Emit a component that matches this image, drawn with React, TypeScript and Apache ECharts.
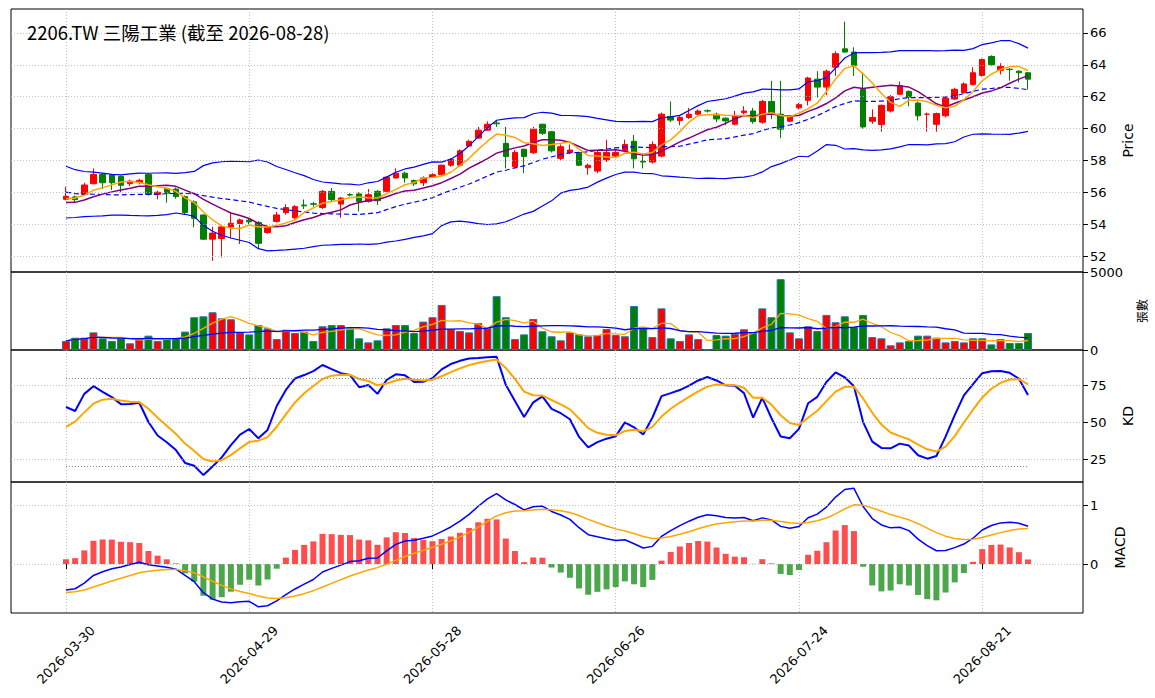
import React, { useEffect, useRef } from 'react';
import * as echarts from 'echarts';

// 2206.TW 三陽工業 日線
const startDate = '2026-03-30';
const holidays = ['2026-04-03', '2026-04-06', '2026-05-01', '2026-06-19'];
const tickDates = ['2026-03-30', '2026-04-29', '2026-05-28', '2026-06-26', '2026-07-24', '2026-08-21'];

const opens = [
  55.56, 55.71, 55.87, 56.54, 57.12, 57.08, 57.0, 56.54, 56.6, 57.12,
  55.87, 56.23, 56.2, 55.73, 55.4, 54.58, 53.06, 53.1, 53.83, 54.04,
  54.25, 54.1, 53.48, 54.17, 54.73, 54.4, 55.2, 55.28, 55.05, 56.06,
  55.26, 55.85, 55.9, 55.43, 56.06, 56.06, 56.9, 57.2, 56.74, 56.6,
  56.95, 57.1, 57.7, 57.7, 58.9, 59.4, 59.9, 60.35, 59.07, 57.6,
  58.7, 58.48, 60.27, 59.8, 58.13, 58.5, 58.5, 57.54, 57.33, 58.04,
  58.27, 58.6, 59.2, 57.95, 57.9, 58.27, 60.76, 60.5, 60.7, 60.9,
  61.12, 60.9, 60.65, 60.27, 61.0, 61.1, 60.4, 61.7, 60.9, 60.46,
  61.3, 61.77, 63.1, 62.6, 63.85, 65.0, 64.8, 62.46, 60.46, 60.25,
  61.1, 62.15, 62.33, 61.6, 60.9, 60.27, 60.8, 61.85, 62.25, 62.77,
  63.33, 64.52, 63.65, 63.72, 63.6, 63.5,
];
const closes = [
  55.75, 55.54, 56.46, 57.12, 56.6, 56.6, 56.44, 56.7, 56.75, 55.87,
  56.0, 55.94, 55.73, 54.73, 54.37, 53.06, 53.44, 53.83, 54.06, 54.27,
  54.15, 52.8, 53.83, 54.58, 55.04, 55.1, 55.15, 55.25, 56.06, 55.54,
  55.64, 55.83, 55.43, 55.85, 55.47, 56.95, 57.2, 56.9, 56.53, 56.9,
  57.1, 57.7, 58.06, 58.6, 59.2, 59.9, 60.27, 60.3, 58.25, 58.5,
  58.25, 59.96, 59.7, 58.6, 58.86, 58.65, 57.7, 57.7, 58.5, 58.5,
  58.5, 59.0, 58.1, 57.9, 59.0, 60.9, 60.53, 60.7, 60.9, 61.1,
  61.1, 60.6, 60.48, 60.8, 61.1, 60.44, 61.7, 60.9, 59.96, 60.73,
  61.5, 63.17, 62.6, 63.6, 64.7, 64.8, 63.96, 60.1, 60.7, 61.46,
  62.0, 62.7, 61.98, 60.8, 60.9, 60.94, 61.9, 62.46, 62.8, 63.5,
  64.33, 64.0, 63.9, 63.7, 63.5, 63.1,
];
const highs = [
  56.35, 55.8, 56.6, 57.5, 57.2, 57.15, 57.05, 56.8, 56.85, 57.2,
  56.1, 56.3, 56.3, 55.8, 55.5, 54.6, 53.84, 53.9, 54.7, 54.35,
  54.4, 54.2, 53.9, 54.77, 55.25, 55.2, 55.55, 55.4, 56.15, 56.27,
  55.7, 55.95, 56.0, 56.2, 56.15, 57.0, 57.5, 57.3, 56.8, 57.0,
  57.2, 57.75, 58.15, 58.7, 59.3, 60.1, 60.45, 60.5, 60.1, 58.65,
  58.75, 60.1, 60.3, 59.85, 59.0, 59.0, 58.55, 57.8, 58.6, 59.3,
  58.6, 59.3, 59.6, 58.4, 59.2, 61.0, 61.7, 60.8, 61.3, 61.2,
  61.2, 61.0, 60.7, 61.1, 61.4, 61.3, 61.8, 63.0, 63.0, 60.8,
  61.6, 63.25, 63.6, 63.7, 64.85, 66.7, 65.1, 63.5, 61.2, 61.5,
  62.1, 62.95, 62.4, 61.7, 61.0, 61.0, 62.0, 62.55, 62.9, 63.85,
  64.4, 64.6, 64.1, 63.8, 63.65, 63.55,
];
const lows = [
  55.5, 55.35, 55.8, 56.5, 56.2, 56.15, 56.0, 56.4, 56.5, 55.8,
  55.56, 55.35, 55.6, 54.6, 53.8, 53.0, 51.7, 51.9, 53.1, 52.75,
  54.0, 52.5, 53.4, 54.1, 54.6, 54.3, 54.95, 55.1, 54.95, 55.45,
  54.4, 55.75, 54.8, 55.35, 55.2, 56.0, 56.85, 56.6, 56.4, 56.4,
  56.9, 57.0, 57.6, 57.6, 58.85, 59.35, 59.85, 60.1, 57.5, 57.55,
  57.2, 58.4, 59.6, 58.5, 58.0, 58.4, 57.65, 57.1, 57.2, 57.9,
  58.2, 58.5, 57.5, 57.5, 57.8, 58.2, 60.4, 60.2, 60.6, 60.8,
  61.0, 60.4, 60.2, 60.2, 60.9, 60.3, 60.3, 60.6, 59.4, 60.4,
  61.2, 61.45, 61.95, 62.1, 63.3, 64.75, 63.3, 60.0, 60.3, 59.8,
  61.0, 62.1, 61.4, 60.5, 59.8, 59.8, 60.7, 61.8, 62.2, 62.7,
  63.25, 63.95, 63.4, 63.0, 62.9, 62.45,
];
const volumes = [
  580, 790, 790, 1130, 750, 580, 750, 430, 700, 920,
  580, 750, 750, 1180, 2100, 2160, 2420, 2030, 1970, 1130,
  1000, 1600, 1390, 700, 1300, 1090, 1180, 580, 1520, 1600,
  1600, 1390, 750, 490, 620, 1390, 1600, 1600, 1090, 1820,
  2100, 2890, 1350, 1220, 1130, 1730, 1430, 3450, 2100, 700,
  1000, 1990, 1200, 880, 620, 1130, 1000, 880, 960, 1350,
  960, 880, 2820, 1390, 830, 2670, 750, 580, 1000, 700,
  30, 960, 920, 1050, 1330, 1110, 2670, 2100, 4540, 1130,
  750, 1520, 1220, 2250, 1780, 2160, 1480, 2250, 830, 750,
  300, 490, 580, 920, 920, 790, 490, 580, 490, 750,
  750, 360, 700, 450, 450, 1090,
];
// closes before the first shown day, for the indicators' warm-up
const preCloses = [
  57.4, 57.6, 57.3, 57.7, 57.5, 57.2, 57.4, 57.1, 57.3, 56.9,
  57.0, 56.6, 56.3, 56.5, 56.0, 55.6, 55.4, 55.0, 55.1, 54.9,
  55.2, 55.3, 55.6, 55.5, 55.8,
];

const PAD = 6;

function tradingDays(n: number) {
  const out: string[] = [];
  const d = new Date(startDate + 'T00:00:00Z');
  while (out.length < n) {
    const s = d.toISOString().slice(0, 10);
    const wd = d.getUTCDay();
    if (wd !== 0 && wd !== 6 && !holidays.includes(s)) out.push(s);
    d.setUTCDate(d.getUTCDate() + 1);
  }
  return out;
}

function indicators() {
  const c = [...preCloses, ...closes];
  const h = [...preCloses.map((v) => v + 0.25), ...highs];
  const l = [...preCloses.map((v) => v - 0.25), ...lows];
  const P = preCloses.length;
  const mean = (a: number[]) => a.reduce((s, v) => s + v, 0) / a.length;
  const sma = (a: number[], n: number, i: number) => mean(a.slice(Math.max(0, i - n + 1), i + 1));
  const out = { ma5: [] as number[], ma10: [] as number[], ma20: [] as number[], up: [] as number[], dn: [] as number[],
    k: [] as number[], d: [] as number[], dif: [] as number[], dea: [] as number[], osc: [] as number[] };
  let k = 50, d = 50, e12 = c[0], e26 = c[0], dea = 0;
  for (let i = 0; i < c.length; i++) {
    const hh = Math.max(...h.slice(Math.max(0, i - 8), i + 1));
    const ll = Math.min(...l.slice(Math.max(0, i - 8), i + 1));
    const rsv = hh === ll ? 50 : ((c[i] - ll) / (hh - ll)) * 100;
    k = (2 * k + rsv) / 3;
    d = (2 * d + k) / 3;
    e12 = i === 0 ? c[0] : e12 + (2 / 13) * (c[i] - e12);
    e26 = i === 0 ? c[0] : e26 + (2 / 27) * (c[i] - e26);
    const dif = e12 - e26;
    dea = i === 0 ? dif : dea + 0.2 * (dif - dea);
    if (i < P) continue;
    const w = c.slice(i - 19, i + 1);
    const m = mean(w);
    const sd = Math.sqrt(w.reduce((s, v) => s + (v - m) ** 2, 0) / (w.length - 1));
    out.ma5.push(sma(c, 5, i));
    out.ma10.push(sma(c, 10, i));
    out.ma20.push(m);
    out.up.push(m + 2 * sd);
    out.dn.push(m - 2 * sd);
    out.k.push(k);
    out.d.push(d);
    out.dif.push(dif);
    out.dea.push(dea);
    out.osc.push(2 * (dif - dea));
  }
  return out;
}

const App: React.FC = () => {
  const chartRef = useRef<HTMLDivElement>(null);

  useEffect(() => {
    if (!chartRef.current) return;
    document.body.style.margin = '0';
    const chart = echarts.init(chartRef.current, undefined, { renderer: 'svg' });

    const n = closes.length;
    const days = tradingDays(n);
    const cats = [...Array(PAD).fill('').map((_, i) => 'pre' + i), ...days, ...Array(PAD).fill('').map((_, i) => 'post' + i)];
    const pad = (a: any[]) => [...Array(PAD).fill('-'), ...a, ...Array(PAD).fill('-')];
    const ind = indicators();
    const volMa = (w: number) => volumes.map((_, i) => {
      const s = volumes.slice(Math.max(0, i - w + 1), i + 1);
      return s.reduce((a, b) => a + b, 0) / s.length;
    });
    const isTick = (idx: number) => tickDates.includes(cats[idx]);
    const font = 'DejaVu Sans';
    const gridLine = { color: '#b0b0b0', type: [1, 2] as any, width: 0.8 };
    const hLines = (vals: number[]) => ({
      silent: true, symbol: 'none', label: { show: false },
      lineStyle: gridLine, data: vals.map((v) => ({ yAxis: v })),
    });

    const tops = [9, 272, 350, 482];
    const heights = [263, 78, 132, 131];
    const grids = tops.map((t, i) => ({
      left: 11, right: 72, top: t, height: heights[i], show: true, borderColor: '#000', borderWidth: 1, backgroundColor: 'transparent',
    }));
    const xAxes = tops.map((_, i) => ({
      type: 'category', gridIndex: i, data: cats, boundaryGap: false,
      axisLine: { show: false },
      axisTick: { show: i === 3, interval: (idx: number) => isTick(idx), length: 5, lineStyle: { color: '#000' } },
      axisLabel: {
        show: i === 3, interval: (idx: number) => isTick(idx), rotate: 45, align: 'center', verticalAlign: 'middle',
        fontFamily: font, fontSize: 13, color: '#000', margin: 42,
      },
      splitLine: { show: true, interval: (idx: number) => isTick(idx), lineStyle: gridLine },
    }));
    const yBase = (i: number, min: number, max: number, labels: number[], name: string, gap: number) => ({
      type: 'value', gridIndex: i, position: 'right', min, max, scale: true,
      name, nameLocation: 'middle', nameRotate: 90, nameGap: gap,
      nameTextStyle: { fontFamily: name === '張數' ? 'Noto Sans CJK TC' : font, fontSize: name === '張數' ? 12 : 14, color: '#000' },
      axisLine: { show: false },
      axisTick: { show: true, customValues: labels, length: 5, lineStyle: { color: '#000' } },
      axisLabel: { show: true, customValues: labels, formatter: (v: number) => String(v), fontFamily: font, fontSize: 13, color: '#000', margin: 7 },
      splitLine: { show: false },
    });

    const line = (name: string, data: number[], color: string, xi: number, extra: any = {}) => ({
      name, type: 'line', xAxisIndex: xi, yAxisIndex: xi, data: pad(data.map((v) => +v.toFixed(4))),
      symbol: 'none', itemStyle: { color },
      ...extra, lineStyle: { color, width: 1.5, ...(extra.lineStyle || {}) },
    });

    const option = {
      animation: false,
      title: {
        text: '2206.TW 三陽工業 (截至 2026-08-28)', left: 22, top: 18,
        textStyle: { fontFamily: 'Noto Sans CJK TC', fontSize: 18.5, fontWeight: 'normal', color: '#000' },
      },
      grid: grids,
      xAxis: xAxes,
      yAxis: [
        yBase(0, 51, 67.5, [52, 54, 56, 58, 60, 62, 64, 66], 'Price', 38),
        yBase(1, 0, 5000, [0, 5000], '張數', 52),
        yBase(2, 9.5, 99.3, [25, 50, 75], 'KD', 38),
        yBase(3, -0.83, 1.39, [0, 1], 'MACD', 30),
      ],
      series: [
        {
          name: 'K線', type: 'candlestick', xAxisIndex: 0, yAxisIndex: 0, barWidth: 6,
          data: pad(closes.map((c, i) => [opens[i], c, lows[i], highs[i]])),
          itemStyle: { color: '#ff0000', color0: '#008000', borderColor: '#ff0000', borderColor0: '#008000', borderWidth: 1 },
          markLine: hLines([52, 54, 56, 58, 60, 62, 64, 66]),
        },
        line('BB上軌', ind.up, '#0000ff', 0, { lineStyle: { width: 1.2 } }),
        line('BB下軌', ind.dn, '#0000ff', 0, { lineStyle: { width: 1.2 } }),
        line('MA20', ind.ma20, '#0000ff', 0, { lineStyle: { width: 1.2, type: [5, 3] } }),
        line('MA10', ind.ma10, '#800080', 0),
        line('MA5', ind.ma5, '#ffa500', 0),
        {
          name: '成交量', type: 'bar', xAxisIndex: 1, yAxisIndex: 1, barWidth: 8,
          data: pad(volumes.map((v, i) => ({
            value: v,
            itemStyle: { color: closes[i] >= opens[i] ? '#ff0000' : '#008000', borderColor: '#1f77b4', borderWidth: 1 },
          }))),
        },
        line('量MA5', volMa(5), '#ffa500', 1, { lineStyle: { width: 1.3 } }),
        line('量MA20', volMa(20), '#0000ff', 1, { lineStyle: { width: 1.3 } }),
        {
          ...line('K', ind.k, '#0000ff', 2, { lineStyle: { width: 2 } }),
          markLine: {
            silent: true, symbol: 'none', label: { show: false },
            data: [
              ...[25, 50, 75].map((v) => ({ yAxis: v, lineStyle: gridLine })),
              ...[20, 80].map((v) => [
                { coord: [days[0], v], lineStyle: { color: '#888', type: [1, 2], width: 1 } },
                { coord: [days[n - 1], v] },
              ]),
            ],
          },
        },
        line('D', ind.d, '#ffa500', 2, { lineStyle: { width: 2 } }),
        {
          name: 'OSC', type: 'bar', xAxisIndex: 3, yAxisIndex: 3, barWidth: 6,
          data: pad(ind.osc.map((v) => ({ value: +v.toFixed(4), itemStyle: { color: v >= 0 ? '#ff4d4d' : '#4ca64c' } }))),
          markLine: hLines([0, 1]),
        },
        line('DIF', ind.dif, '#0000ff', 3),
        line('DEA', ind.dea, '#ffa500', 3),
      ],
    };

    chart.setOption(option as any);
    return () => {
      chart.dispose();
    };
  }, []);

  return <div ref={chartRef} style={{ position: 'absolute', left: 0, top: 0, width: 1155, height: 698 }} />;
};

export default App;
